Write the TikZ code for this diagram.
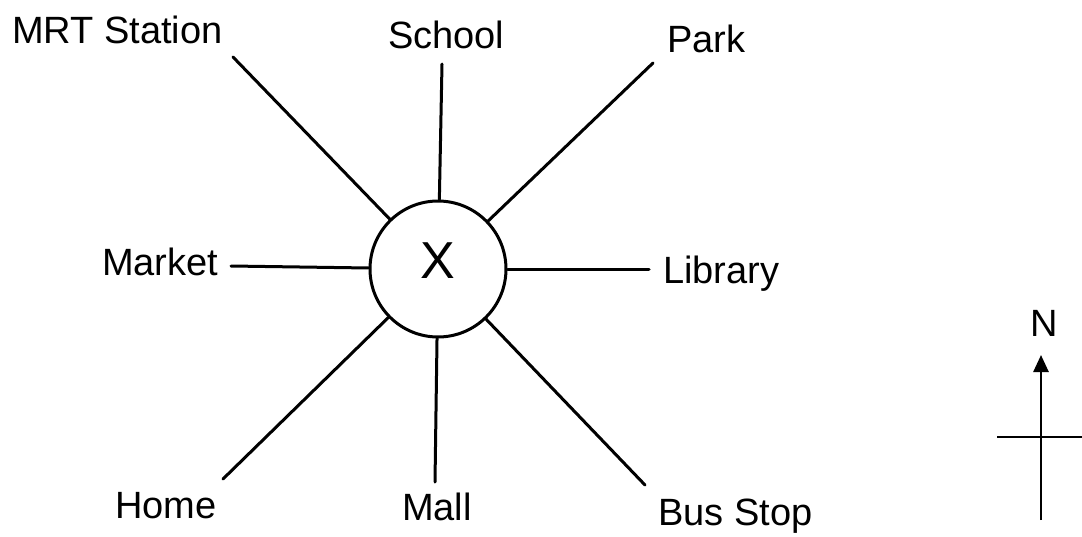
\documentclass[tikz,border=0pt]{standalone}
\usepackage{fontspec}
\setmainfont{Liberation Sans}
\usetikzlibrary{arrows.meta}
\begin{document}
\begin{tikzpicture}[x=1pt,y=-1pt,
  lbl/.style={anchor=base west,inner sep=0pt,font=\fontsize{38}{44}\selectfont},
  spoke/.style={line width=3pt,line cap=round},
  hub/.style={circle,draw,line width=3pt,minimum size=136pt,inner sep=0pt,
    font=\fontsize{52}{58}\selectfont,text depth=16pt},
  compassline/.style={line width=2.6pt}]
\useasboundingbox (0,0) rectangle (1082,536);
\fill[white] (0,0) rectangle (1082,536);

\node[hub] (X) at (438,269) {X};

\node[lbl] (mrt) at (12,43) {MRT Station};
\node[lbl] (school) at (388,48) {School};
\node[lbl] (park) at (667,52) {Park};
\node[lbl] (market) at (102,275) {Market};
\node[lbl] (library) at (663,283) {Library};
\node[lbl] (home) at (115,518) {Home};
\node[lbl] (mall) at (402,520) {Mall};
\node[lbl] (bus) at (658,525) {Bus Stop};

\coordinate (mrtE) at (233,57);
\coordinate (schE) at (442,64);
\coordinate (parkE) at (653,63);
\coordinate (marE) at (231,266);
\coordinate (libE) at (649,269);
\coordinate (homeE) at (223,479);
\coordinate (mallE) at (435,482);
\coordinate (busE) at (645,485);

\draw[spoke] (X) -- (mrtE);
\draw[spoke] (X) -- (schE);
\draw[spoke] (X) -- (parkE);
\draw[spoke] (X) -- (marE);
\draw[spoke] (X) -- (libE);
\draw[spoke] (X) -- (homeE);
\draw[spoke] (X) -- (mallE);
\draw[spoke] (X) -- (busE);

% compass
\node[anchor=base,inner sep=0pt,font=\fontsize{38}{44}\selectfont] (N) at (1044,336) {N};
\coordinate (cS) at (1041,520);
\coordinate (cN) at (1041,355);
\coordinate (cW) at (997,437);
\coordinate (cE) at (1082,437);
\draw[compassline,-{Triangle[width=15pt,length=17pt]}] (cS) -- (cN);
\draw[compassline] (cW) -- (cE);
\end{tikzpicture}
\end{document}
